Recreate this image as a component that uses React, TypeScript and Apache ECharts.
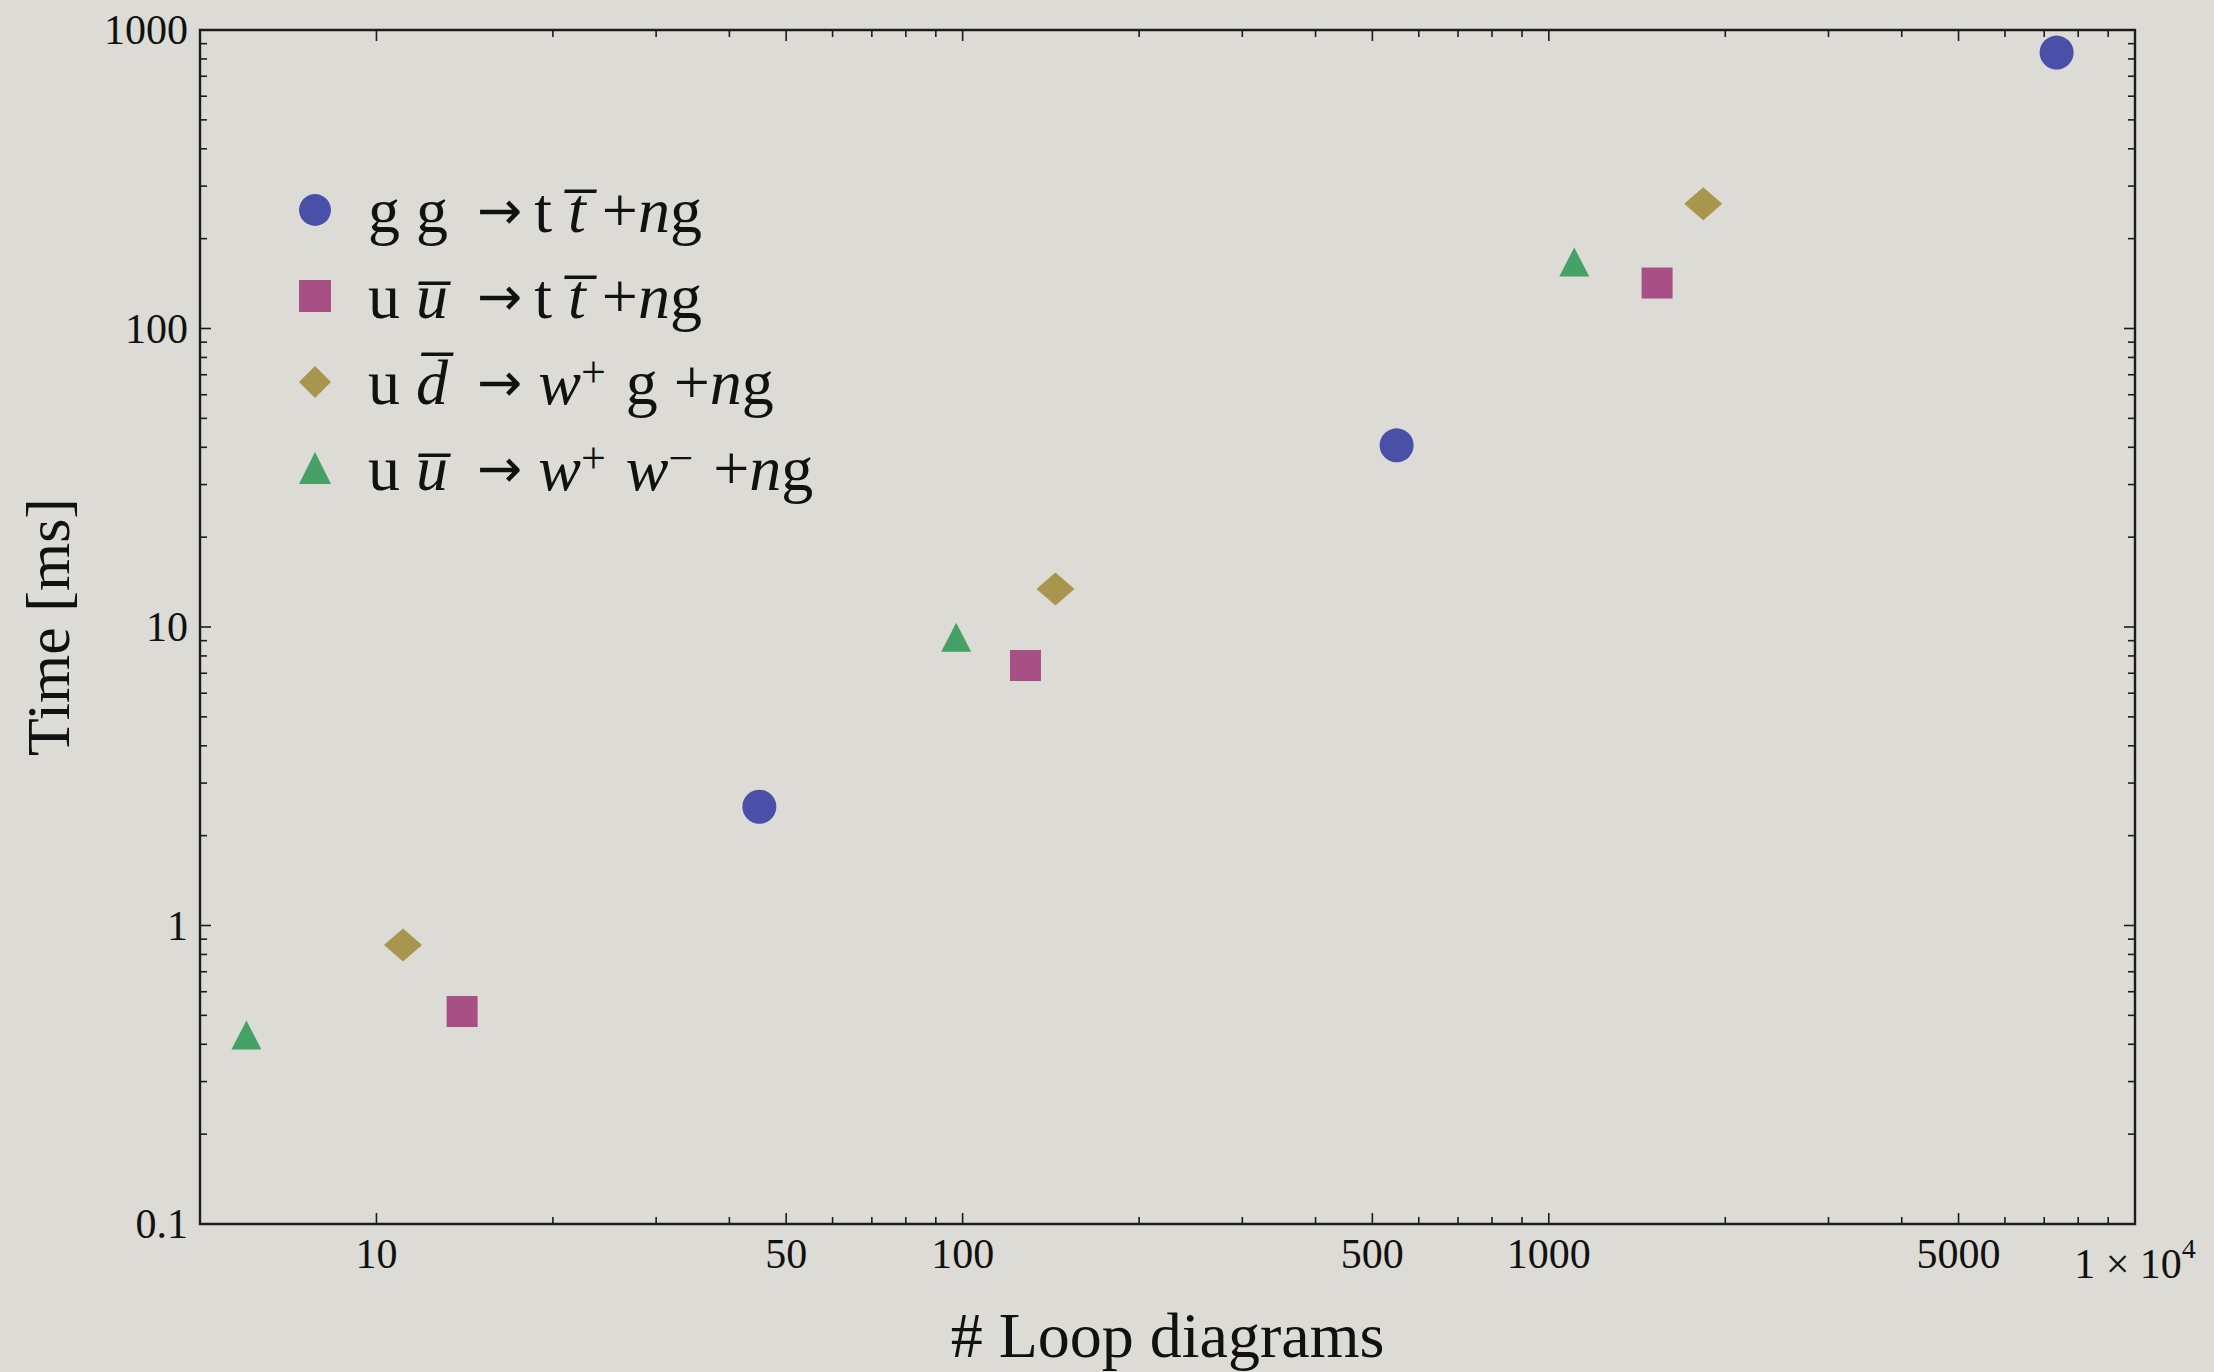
import React, { useEffect, useRef } from "react";
import * as echarts from "echarts";

// ---- axis bounds ----
const X_MIN = 5;
const X_MAX = 10000;
const Y_MIN = 0.1;
const Y_MAX = 1000;

// ---- series ----
const seriesNames = [
  "g g → t t̄ +ng",
  "u ū → t t̄ +ng",
  "u d̄ → w⁺ g +ng",
  "u ū → w⁺ w⁻ +ng",
];
const ggTTX = [45, 550, 7350];
const ggTTY = [2.5, 40.6, 840];
const uuTTX = [14, 128, 1530];
const uuTTY = [0.515, 7.43, 142];
const udWGX = [11.1, 144, 1834];
const udWGY = [0.86, 13.4, 262];
const uuWWX = [6, 97.5, 1105];
const uuWWY = [0.43, 9.24, 167];

// ---- ticks ----
const xMajorTicks = [10, 50, 100, 500, 1000, 5000, 10000];
const xTickLabels = ["10", "50", "100", "500", "1000", "5000", "1 × 10^4"];
const xMinorTicks = [
  20, 30, 40, 60, 70, 80, 90,
  200, 300, 400, 600, 700, 800, 900,
  2000, 3000, 4000, 6000, 7000, 8000, 9000,
];
const yMajorTicks = [0.1, 1, 10, 100, 1000];
const yTickLabels = ["0.1", "1", "10", "100", "1000"];
const yMinorTicks = [
  0.2, 0.3, 0.4, 0.5, 0.6, 0.7, 0.8, 0.9,
  2, 3, 4, 5, 6, 7, 8, 9,
  20, 30, 40, 50, 60, 70, 80, 90,
  200, 300, 400, 500, 600, 700, 800, 900,
];

const FONT = "'Liberation Serif', 'Times New Roman', 'DejaVu Serif', serif";
const ARROW_FONT = "'DejaVu Sans', 'DejaVu Serif', sans-serif";
const TEXT = "#111111";
const FRAME = "#1c1c1c";
const BG = "#dcdbd5";

const COLORS = ["#4a4fa8", "#a84f86", "#a8954e", "#45a166"];

const legendRich = [
  "{sp| }{r|g g}{ga| }{ar|→}{tt| }{r|t }{i|t\u0305}{r| +}{i|n}{r|g}",
  "{sp| }{r|u }{i|u\u0305}{ga| }{ar|→}{tt| }{r|t }{i|t\u0305}{r| +}{i|n}{r|g}",
  "{sp| }{r|u }{i|d\u0305}{ga| }{ar|→}{r| }{i|w}{sup|+}{sg| }{r|g +}{i|n}{r|g}",
  "{sp| }{r|u }{i|u\u0305}{ga| }{ar|→}{r| }{i|w}{sup|+}{sg| }{i|w}{sup|−}{sg| }{r|+}{i|n}{r|g}",
];

const toPairs = (xs: number[], ys: number[]) => xs.map((x, i) => [x, ys[i]]);

function buildOption(): any {
  const xTickData = [
    ...xMajorTicks.map((v) => [v, Y_MIN, 1]),
    ...xMinorTicks.map((v) => [v, Y_MIN, 0]),
  ];
  const yTickData = [
    ...yMajorTicks.map((v) => [X_MIN, v, 1]),
    ...yMinorTicks.map((v) => [X_MIN, v, 0]),
  ];
  const tickStyle = { stroke: FRAME, lineWidth: 1.6 };
  const LFS = 64;
  const LLH = 64;

  return {
    animation: false,
    backgroundColor: BG,
    grid: {
      left: 200,
      top: 30,
      width: 1935,
      height: 1194,
      show: true,
      borderColor: FRAME,
      borderWidth: 2.4,
      backgroundColor: "transparent",
    },
    xAxis: {
      type: "log",
      logBase: 10,
      min: X_MIN,
      max: X_MAX,
      axisLine: { show: false },
      axisTick: { show: false },
      axisLabel: { show: false },
      splitLine: { show: false },
      name: "# Loop diagrams",
      nameLocation: "middle",
      nameGap: 79,
      nameTextStyle: { fontFamily: FONT, fontSize: 64, color: TEXT },
    },
    yAxis: {
      type: "log",
      logBase: 10,
      min: Y_MIN,
      max: Y_MAX,
      axisLine: { show: false },
      axisTick: { show: false },
      axisLabel: { show: false },
      splitLine: { show: false },
      name: "Time [ms]",
      nameLocation: "middle",
      nameRotate: 90,
      nameGap: 121,
      nameTextStyle: { fontFamily: FONT, fontSize: 62, color: TEXT },
    },
    legend: {
      orient: "vertical",
      left: 294,
      top: 173,
      itemWidth: 32,
      itemHeight: 32,
      itemGap: 22,
      data: seriesNames,
      selectedMode: false,
      formatter: (name: string) => legendRich[seriesNames.indexOf(name)],
      textStyle: {
        fontFamily: FONT,
        fontSize: LFS,
        lineHeight: LLH,
        color: TEXT,
        rich: {
          sp: { width: 32, fontSize: LFS, lineHeight: LLH },
          ga: { width: 29, fontSize: LFS, lineHeight: LLH },
          tt: { width: 12, fontSize: LFS, lineHeight: LLH },
          sg: { width: 20, fontSize: LFS, lineHeight: LLH },
          r: { fontFamily: FONT, fontSize: LFS, lineHeight: LLH, color: TEXT },
          i: { fontFamily: FONT, fontSize: LFS, lineHeight: LLH, color: TEXT, fontStyle: "italic" },
          ar: { fontFamily: ARROW_FONT, fontSize: 54, lineHeight: LLH, color: TEXT },
          sup: { fontFamily: FONT, fontSize: 44, lineHeight: 42, color: TEXT, verticalAlign: "top" },
        },
      },
    },
    series: [
      {
        type: "custom",
        name: "xticks",
        silent: true,
        clip: false,
        encode: { x: 0, y: 1 },
        data: xTickData,
        z: 3,
        renderItem: (params: any, api: any) => {
          const v = api.value(0);
          const major = api.value(2) === 1;
          const len = major ? 11 : 7;
          const b = api.coord([v, Y_MIN]);
          const t = api.coord([v, Y_MAX]);
          return {
            type: "group",
            children: [
              { type: "line", shape: { x1: b[0], y1: b[1], x2: b[0], y2: b[1] - len }, style: tickStyle },
              { type: "line", shape: { x1: t[0], y1: t[1], x2: t[0], y2: t[1] + len }, style: tickStyle },
            ],
          };
        },
      },
      {
        type: "custom",
        name: "yticks",
        silent: true,
        clip: false,
        encode: { x: 0, y: 1 },
        data: yTickData,
        z: 3,
        renderItem: (params: any, api: any) => {
          const v = api.value(1);
          const major = api.value(2) === 1;
          const len = major ? 11 : 7;
          const l = api.coord([X_MIN, v]);
          const r = api.coord([X_MAX, v]);
          return {
            type: "group",
            children: [
              { type: "line", shape: { x1: l[0], y1: l[1], x2: l[0] + len, y2: l[1] }, style: tickStyle },
              { type: "line", shape: { x1: r[0], y1: r[1], x2: r[0] - len, y2: r[1] }, style: tickStyle },
            ],
          };
        },
      },
      {
        type: "custom",
        name: "xlabels",
        silent: true,
        clip: false,
        encode: { x: 0, y: 1 },
        data: xMajorTicks.map((v) => [v, Y_MIN]),
        z: 3,
        renderItem: (params: any, api: any) => {
          const v = api.value(0);
          const p = api.coord([v, Y_MIN]);
          const txt = xTickLabels[params.dataIndex];
          if (txt.indexOf("^") >= 0) {
            const [base, exp] = txt.split("^");
            return {
              type: "text",
              x: p[0],
              y: p[1] + 10,
              style: {
                text: `{a|${base}}{s|${exp}}`,
                align: "center",
                verticalAlign: "top",
                rich: {
                  a: { fontFamily: FONT, fontSize: 42, lineHeight: 60, fill: TEXT },
                  s: { fontFamily: FONT, fontSize: 28, lineHeight: 28, fill: TEXT, verticalAlign: "top" },
                },
              },
            };
          }
          return {
            type: "text",
            x: p[0],
            y: p[1] + 30,
            style: {
              text: txt,
              fontFamily: FONT,
              fontSize: 42,
              fill: TEXT,
              align: "center",
              verticalAlign: "middle",
            },
          };
        },
      },
      {
        type: "custom",
        name: "ylabels",
        silent: true,
        clip: false,
        encode: { x: 0, y: 1 },
        data: yMajorTicks.map((v) => [X_MIN, v]),
        z: 3,
        renderItem: (params: any, api: any) => {
          const v = api.value(1);
          const p = api.coord([X_MIN, v]);
          return {
            type: "text",
            x: p[0] - 12,
            y: p[1],
            style: {
              text: yTickLabels[params.dataIndex],
              fontFamily: FONT,
              fontSize: 42,
              fill: TEXT,
              align: "right",
              verticalAlign: "middle",
            },
          };
        },
      },
      {
        type: "scatter",
        name: seriesNames[0],
        data: toPairs(ggTTX, ggTTY),
        symbol: "circle",
        symbolSize: 34,
        itemStyle: { color: COLORS[0], opacity: 1 },
        z: 5,
      },
      {
        type: "scatter",
        name: seriesNames[1],
        data: toPairs(uuTTX, uuTTY),
        symbol: "rect",
        symbolSize: 31,
        itemStyle: { color: COLORS[1], opacity: 1 },
        z: 5,
      },
      {
        type: "scatter",
        name: seriesNames[2],
        data: toPairs(udWGX, udWGY),
        symbol: "diamond",
        symbolSize: [38, 33],
        itemStyle: { color: COLORS[2], opacity: 1 },
        z: 5,
      },
      {
        type: "scatter",
        name: seriesNames[3],
        data: toPairs(uuWWX, uuWWY),
        symbol: "triangle",
        symbolSize: [30, 29],
        itemStyle: { color: COLORS[3], opacity: 1 },
        z: 5,
      },
    ],
  };
}

export default function App() {
  const ref = useRef<HTMLDivElement>(null);
  useEffect(() => {
    if (!ref.current) return;
    const chart = echarts.init(ref.current, null, { renderer: "svg" });
    chart.setOption(buildOption());
    return () => chart.dispose();
  }, []);
  return (
    <div
      ref={ref}
      style={{ position: "fixed", left: 0, top: 0, width: 2214, height: 1372, background: BG }}
    />
  );
}
